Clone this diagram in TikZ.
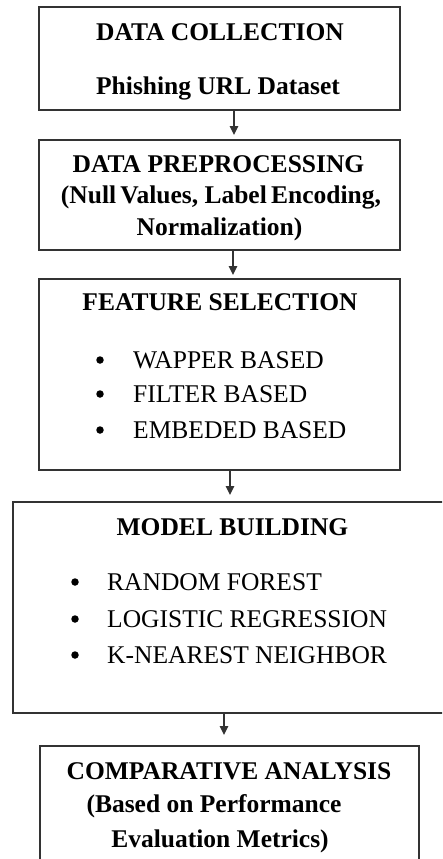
\documentclass[tikz,border=0pt]{standalone}
\usepackage{fontspec}
\setmainfont{Liberation Serif}
\usetikzlibrary{arrows.meta,calc}
\begin{document}
\begin{tikzpicture}[x=1pt,y=-1pt,
  stage/.style={draw=black!80, line width=2pt, rectangle, inner sep=0pt,
    outer sep=0pt, anchor=north west},
  head/.style={font=\fontsize{25.5}{30}\selectfont\bfseries, anchor=base, inner sep=0pt},
  item/.style={font=\fontsize{25.5}{30}\selectfont, anchor=base west, inner sep=0pt},
  dot/.style={circle, fill=black, inner sep=0pt, minimum size=7.5pt},
  flow/.style={draw=black!80, line width=1.6pt, -{Triangle[length=9pt,width=8.5pt]}}]
\useasboundingbox (0,0) rectangle (442,859);
\clip (0,0) rectangle (442,859);

% stage boxes
\node[stage, minimum width=361pt, minimum height=103pt] (b1) at (39,7) {};
\node[stage, minimum width=361pt, minimum height=110pt] (b2) at (39,140) {};
\node[stage, minimum width=361pt, minimum height=191pt] (b3) at (39,279) {};
\node[stage, minimum width=438pt, minimum height=211pt] (b4) at (13,502) {};
\node[stage, minimum width=379pt, minimum height=134pt] (b5) at (40,746) {};

% data collection
\node[head] (t1a) at (220,41) {DATA COLLECTION};
\node[head] (t1b) at (218,94) {Phishing URL Dataset};

% preprocessing
\node[head] (t2a) at (218.5,172) {DATA PREPROCESSING};
\node[head] (t2b) at (221,203) {(Null\,Values, Label\,Encoding,};
\node[head] (t2c) at (219.5,235) {Normalization)};

% feature selection
\node[head] (t3a) at (220,310) {FEATURE SELECTION};
\node[dot] (d31) at (100,360) {};
\node[dot] (d32) at (100,394) {};
\node[dot] (d33) at (100,430) {};
\node[item] (i31) at (133,368) {WAPPER BASED};
\node[item] (i32) at (133,402) {FILTER BASED};
\node[item] (i33) at (133,438) {EMBEDED BASED};

% model building
\node[head] (t4a) at (232.5,535) {MODEL BUILDING};
\node[dot] (d41) at (75,582) {};
\node[dot] (d42) at (75,619) {};
\node[dot] (d43) at (75,655) {};
\node[item] (i41) at (107,590) {RANDOM FOREST};
\node[item] (i42) at (107,627) {LOGISTIC REGRESSION};
\node[item] (i43) at (107,663) {K-NEAREST NEIGHBOR};

% comparative analysis
\node[head] (t5a) at (229,779) {COMPARATIVE ANALYSIS};
\node[head] (t5b) at (214,812) {(Based on Performance};
\node[head] (t5c) at (220,847) {Evaluation Metrics)};

% flow arrows, each on its own vertical line
\coordinate (a1) at (234,0);
\coordinate (a2) at (233,0);
\coordinate (a3) at (230,0);
\coordinate (a4) at (224,0);
\draw[flow] (b1.south -| a1) -- ($(b2.north -| a1)+(0,-5)$);
\draw[flow] (b2.south -| a2) -- ($(b3.north -| a2)+(0,-4)$);
\draw[flow] (b3.south -| a3) -- ($(b4.north -| a3)+(0,-7)$);
\draw[flow] (b4.south -| a4) -- ($(b5.north -| a4)+(0,-11)$);
\end{tikzpicture}
\end{document}
